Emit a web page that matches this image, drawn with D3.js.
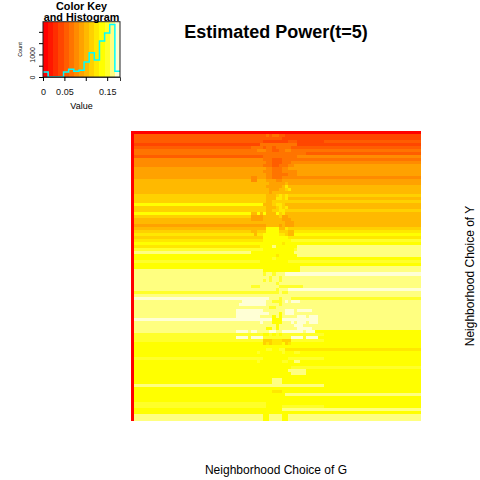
<!DOCTYPE html>
<html><head><meta charset="utf-8">
<script src="https://cdn.jsdelivr.net/npm/d3@7/dist/d3.min.js"></script>
<style>body{margin:0;background:#fff;} svg{display:block;font-family:"Liberation Sans",Arial,Helvetica,sans-serif;}</style>
</head><body><svg id="chart" width="480" height="480"></svg>
<script>
// ---------- data ----------
const titleText = "Estimated Power(t=5)";
const xLabelText = "Neighborhood Choice of G";
const yLabelText = "Neighborhood Choice of Y";
// color levels (heat.colors(15)), one char per level
const levelKeys = ["0","1","2","3","4","5","6","7","8","9","a","b","c","d","e"];
const heatColors = ["#FF0000","#FF1700","#FF2E00","#FF4600","#FF5D00","#FF7400","#FF8B00","#FFA200",
                    "#FFB900","#FFD100","#FFE800","#FFFF00","#FFFF2A","#FFFF80","#FFFFD5"];
const keyBreaks = [0,0.012,0.024,0.036,0.048,0.060,0.072,0.084,0.096,0.108,0.120,0.132,0.144,0.156,0.168,0.180];
const histCounts = [221,0,0,0,221,339,250,295,664,1077,750,1600,1950,2330,250];
const keyXTicks = [0,0.05,0.10,0.15];
const keyXTickLabels = ["0","0.05","","0.15"];
const keyYTicks = [0,500,1000,1500,2000];
const keyYTickLabels = ["0","","1000","",""];
const nCols = 96;
const centerStart = 34;
// per-row level of left part (cols 1..33) and right part (cols 64..95)
const rowLeft  = "044434554666777788888999b99b988789a9abacdbbcbbdddddddcdeddddddeddddcccbbbbbcbbbbbbbbdbbbbbccbbddc";
const rowRight = "033434546567777677888989889888889abacbddddbcbddeddddeddcddddddddddbbbbbbabbbbbcbbbbbbbbdbbbbdbdd";
// middle band (cols 34..63): '.' = row's left level, '-' = row's right level
const centerBand = [
"..............................",
"....4444444545544-------------",
"......4444444444--------------",
"..........33333333444333333333",
".........555555555555---------",
"......5555455455555-----------",
"........66655445566-----------",
"...........5555555555555------",
"..........55555555555---------",
"..........5554445555----------",
"...........55444555...........",
"..........5554455566----------",
"...........6655566............",
"..........66655566666.........",
"...........6655555666.........",
"......66...6655566666---------",
"......66...77766777-----------",
"............777778------------",
"...........77777.a............",
"............7778.9a...........",
"............7888..............",
"...........8889a9a............",
"...........888aa9a------------",
"...........889999-------------",
"..........8889aa9-------------",
"........99.8889a9a------------",
"...........889.aa.9-----------",
"......88.8.888.9a8------------",
"......777788888.778-----------",
"......7777.8888.7778----------",
".......888..888..777----------",
"...........8888.8.77----------",
"...........bbbb..a------------",
"......88...bbbb...88----------",
".......8..bbbbb..988----------",
"..........bbbbbbbb------------",
"........aabbbbbbbbb-----------",
".........bbbbbbbabbb----------",
".........bbbbdbbbbbbb---------",
"..........bbbbbbbbbbc---------",
"......bbbbbbbbbbbbbb----------",
"........bbbbbbabbbbbb---------",
"........bbbbbcbbbbb-----------",
".........bbbbbbbbbcc----------",
"..........bbbbbbbbb...........",
".........bbbbbbbbbbbbbd-------",
"..........bbbbbbbbbbbb--------",
"........ddcddcddd-------------",
"...........dcddcd-------------",
"..........cdcddcd..dd---------",
"...........dddcddd------------",
"......ccc......cccccccc-------",
"..........ddddcddd------------",
"..........cc...dcc------------",
".........dddddddddd-----------",
".....eeeee..dddcddd-----------",
"...eeeeeeee..cccde.eee--------",
"..eeeeeeeee....cdddddd--------",
"..........ddccddddddd---------",
".eeeeeeeee....d..eee.eeeee----",
".eeeeeeeeeee.d.b.eeedd--------",
".eeeeeeee....b.b...d.eee.eee--",
"..........e..bbb.....eee.eee--",
".........e...bbb...e.eee.eee--",
"..............b.....eee.......",
"...........bb.b......eeeee----",
".eeee.ee....ee..eeeeeee.eee---",
"..........bb.b.b..............",
".eeee.eeee.........eeee.eeee--",
"..........999aaa999...........",
"..........9a9aaa.9a...........",
"...........bbbb...............",
"..........bccb.cc-------------",
"........c.bbbbbbc...cc........",
"...........bbb.bbb------------",
"..........bbbbbbbb............",
"........c..bbbb.cc..dd........",
"..........bbbbbb..............",
"...........b.bbbbb.cc---------",
"...........bbbbb..dddddd......",
"..........bb.bbbbb.ddddd......",
"...........bbbbbbb............",
".............ddd..............",
"..........bb.ddd.bb-----------",
"......dddd...ddd....dddddd....",
"..........bbbbbbb.............",
".............aaa..............",
"...........bbbbbb-------------",
"..........bbbbbbbb............",
"..........bb.b.bbb------------",
"...........bbbbbb-------------",
"..........cbbbbbc.............",
"...........bbbbb--------------",
"..........bb....bb------------",
"..........bb....bb............",
"..........bb....bb------------"
];

// ---------- build cells ----------
const nRows = centerBand.length;
const cells = [];
for (let r = 0; r < nRows; r++) {
  const band = centerBand[r];
  for (let c = 0; c < nCols; c++) {
    let lv;
    if (c === 0) lv = "0";
    else if (c < centerStart) lv = rowLeft[r];
    else if (c < centerStart + 30) {
      const ch = band[c - centerStart];
      lv = (ch === "." ) ? rowLeft[r] : (ch === "-" || ch === undefined) ? rowRight[r] : ch;
    } else lv = rowRight[r];
    cells.push({r, c, lv});
  }
}

const svg = d3.select("#chart");
const color = d3.scaleOrdinal(levelKeys, heatColors);

// ---------- heatmap ----------
const x = d3.scaleBand().domain(d3.range(nCols)).range([131, 420]);
const y = d3.scaleBand().domain(d3.range(nRows)).range([131, 420]);
svg.append("g").attr("shape-rendering","crispEdges")
  .selectAll("rect").data(cells).join("rect")
  .attr("x", d => x(d.c)).attr("y", d => y(d.r))
  .attr("width", x.bandwidth() + 0.5).attr("height", y.bandwidth() + 0.5)
  .attr("fill", d => color(d.lv));

svg.append("text").attr("x", 276).attr("y", 38).attr("text-anchor","middle")
  .attr("font-weight","bold").attr("font-size", 18).text(titleText);
svg.append("text").attr("x", 276).attr("y", 474).attr("text-anchor","middle")
  .attr("font-size", 12).text(xLabelText);
svg.append("text").attr("transform","translate(474,276) rotate(-90)").attr("text-anchor","middle")
  .attr("font-size", 12).text(yLabelText);

// ---------- color key ----------
const kx = d3.scaleLinear().domain([0, 0.18]).range([43, 120]);
const ky = d3.scaleLinear().domain([0, 2450]).range([77, 21.7]);
const key = svg.append("g");
key.append("g").attr("shape-rendering","crispEdges").selectAll("rect")
  .data(heatColors).join("rect")
  .attr("x", (d,i) => kx(keyBreaks[i])).attr("y", ky(2450))
  .attr("width", (d,i) => kx(keyBreaks[i+1]) - kx(keyBreaks[i]) + 0.3)
  .attr("height", ky(0) - ky(2450)).attr("fill", d => d);

const histPts = keyBreaks.map((b,i) => [b, i < histCounts.length ? histCounts[i] : histCounts[histCounts.length-1]]);
key.append("path").datum(histPts)
  .attr("d", d3.line().x(d => kx(d[0])).y(d => ky(d[1])).curve(d3.curveStepAfter))
  .attr("fill","none").attr("stroke","#00FFFF").attr("stroke-width",1.5);

key.append("rect").attr("x", 43).attr("y", ky(2450)).attr("width", 77).attr("height", ky(0)-ky(2450))
  .attr("fill","none").attr("stroke","#222").attr("stroke-width",1);

const xAxisKey = d3.axisBottom(kx).tickValues(keyXTicks).tickSize(4).tickPadding(8)
  .tickFormat((d,i) => keyXTickLabels[i]);
const gx = key.append("g").attr("transform","translate(0,77)").call(xAxisKey);
gx.select(".domain").attr("stroke","#333");
gx.selectAll("text").attr("font-size", 9).attr("font-family","Liberation Sans, Arial, sans-serif").attr("fill","#111");

const yAxisKey = d3.axisLeft(ky).tickValues(keyYTicks).tickSize(4).tickFormat((d,i) => keyYTickLabels[i]);
const gy = key.append("g").attr("transform","translate(43,0)").call(yAxisKey);
gy.select(".domain").remove();
gy.selectAll("text").attr("font-size", 7).attr("font-family","Liberation Sans, Arial, sans-serif").attr("fill","#111")
  .attr("text-anchor","middle").attr("x", 0).attr("dy", 0)
  .attr("transform", "translate(-8,0) rotate(-90)");

key.append("text").attr("x", 81.5).attr("y", 109).attr("text-anchor","middle").attr("font-size", 9).text("Value");
key.append("text").attr("transform","translate(22,49.5) rotate(-90)").attr("text-anchor","middle").attr("font-size", 5.5).text("Count");
key.append("text").attr("x", 81.5).attr("y", 9.5).attr("text-anchor","middle").attr("font-weight","bold").attr("font-size", 10.8).text("Color Key");
key.append("text").attr("x", 81.5).attr("y", 21).attr("text-anchor","middle").attr("font-weight","bold").attr("font-size", 10.8).text("and Histogram");
</script></body></html>
